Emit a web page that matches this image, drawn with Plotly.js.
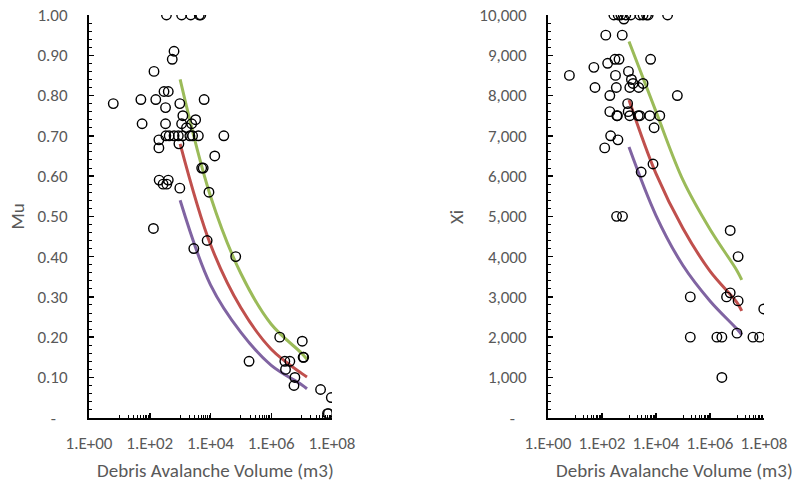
<!DOCTYPE html>
<html>
<head>
<meta charset="utf-8">
<script src="https://cdn.plot.ly/plotly-3.0.1.min.js"></script>
<style>html,body{margin:0;padding:0;background:#fff;}#chart{width:798px;height:484px;}</style>
</head>
<body>
<div id="chart"></div>
<script>
// ---- Left panel: Mu vs Debris Avalanche Volume ----
const muVolume = [355, 1120, 2240, 4270, 4790, 630, 550, 138, 6.3, 51, 158, 295, 407, 331, 977, 56, 331, 1230, 1120, 3240, 2400, 1620, 6170,
  339, 437, 631, 871, 1200, 2090, 2570, 3980, 27500, 200, 200, 912, 13800, 5130, 5750, 204, 407, 275, 363, 977, 8900, 132, 7760, 2820, 67600,
  1.9e6, 1.05e7, 1.86e5, 2.8e6, 4.1e6, 2.95e6, 1.12e7, 1.17e7, 6.0e6, 5.6e6, 4.2e7, 9.5e7, 7.1e7, 7.6e7];
const muValue = [1.00, 1.00, 1.00, 1.00, 1.00, 0.91, 0.89, 0.86, 0.78, 0.79, 0.79, 0.81, 0.81, 0.77, 0.78, 0.73, 0.73, 0.75, 0.73, 0.74, 0.73, 0.72, 0.79,
  0.70, 0.70, 0.70, 0.70, 0.70, 0.70, 0.70, 0.70, 0.70, 0.69, 0.67, 0.68, 0.65, 0.62, 0.62, 0.59, 0.59, 0.58, 0.58, 0.57, 0.56, 0.47, 0.44, 0.42, 0.40,
  0.20, 0.19, 0.14, 0.14, 0.14, 0.12, 0.15, 0.15, 0.10, 0.08, 0.07, 0.05, 0.01, 0.01];

// ---- Right panel: Xi vs Debris Avalanche Volume ----
const xiVolume = [275, 398, 501, 759, 1170, 2510, 3310, 4470, 5130, 26900, 646, 138, 562, 302, 427, 6310, 162, 50, 6.2, 316, 955, 1230, 1410, 3310,
  55, 339, 1070, 2290, 195, 61700, 891, 195, 933, 355, 372, 1070, 2190, 2510, 5890, 13800, 8510, 209, 389, 126, 7760, 2820, 347, 575,
  5.6e6, 1.1e7, 1.86e5, 1.86e5, 5.6e6, 4.1e6, 1.1e7, 9.8e7, 1.0e7, 1.8e6, 2.75e6, 3.9e7, 6.9e7, 2.75e6];
const xiValue = [10000, 10000, 10000, 10000, 10000, 10000, 10000, 10000, 10000, 10000, 9900, 9500, 9500, 8900, 8900, 8900, 8800, 8700, 8500, 8500, 8600, 8400, 8300, 8300,
  8200, 8200, 8200, 8200, 8000, 8000, 7800, 7600, 7600, 7500, 7500, 7500, 7500, 7500, 7500, 7500, 7200, 7000, 6900, 6700, 6300, 6100, 5000, 5000,
  4650, 4000, 3000, 2000, 3100, 3000, 2900, 2700, 2100, 2000, 2000, 2000, 2000, 1000];

// ---- Fitted curves ----
const curveVolume = [1000, 10000, 100000, 1e6, 1e7, 1.5e7];
const muGreen  = [0.84, 0.55, 0.358, 0.232, 0.160, 0.145];
const muRed    = [0.68, 0.43, 0.273, 0.170, 0.110, 0.101];
const muPurple = [0.54, 0.330, 0.212, 0.130, 0.082, 0.072];
const xiGreen  = [9340, 7600, 5900, 4680, 3650, 3420];
const xiRed    = [7890, 6060, 4700, 3640, 2860, 2650];
const xiPurple = [6720, 5020, 3780, 2900, 2200, 2060];

// ---- Tick labels ----
const xTickVals = [1, 100, 1e4, 1e6, 1e8];
const xTickText = ['1.E+00', '1.E+02', '1.E+04', '1.E+06', '1.E+08'];
const xMinorVals = [10,20,30,40,50,60,70,80,90, 1e3,2e3,3e3,4e3,5e3,6e3,7e3,8e3,9e3, 1e5,2e5,3e5,4e5,5e5,6e5,7e5,8e5,9e5, 1e7,2e7,3e7,4e7,5e7,6e7,7e7,8e7,9e7];
const muTickVals = [0, 0.1, 0.2, 0.3, 0.4, 0.5, 0.6, 0.7, 0.8, 0.9, 1.0];
const muTickText = ['-\u00a0\u00a0\u00a0', '0.10', '0.20', '0.30', '0.40', '0.50', '0.60', '0.70', '0.80', '0.90', '1.00'];
const xiTickVals = [0, 1000, 2000, 3000, 4000, 5000, 6000, 7000, 8000, 9000, 10000];
const xiTickText = ['-\u00a0\u00a0\u00a0', '1,000', '2,000', '3,000', '4,000', '5,000', '6,000', '7,000', '8,000', '9,000', '10,000'];

const FONT = 'Carlito, Calibri, Lato, "Open Sans", sans-serif';
const GREY = '#595959';
const GREEN = '#9BBB59', RED = '#C0504D', PURPLE = '#8064A2';

function line(x, y, color, xa, ya) {
  return {x: x, y: y, xaxis: xa, yaxis: ya, type: 'scatter', mode: 'lines',
    line: {color: color, width: 3, shape: 'spline', smoothing: 1}, hoverinfo: 'skip', showlegend: false};
}
function pts(x, y, xa, ya) {
  return {x: x, y: y, xaxis: xa, yaxis: ya, type: 'scatter', mode: 'markers',
    marker: {symbol: 'circle-open', size: 9.5, color: '#000', line: {width: 1.4, color: '#000'}}, showlegend: false};
}

const data = [
  line(curveVolume, muGreen, GREEN, 'x', 'y'),
  line(curveVolume, muRed, RED, 'x', 'y'),
  line(curveVolume, muPurple, PURPLE, 'x', 'y'),
  pts(muVolume, muValue, 'x', 'y'),
  line(curveVolume, xiGreen, GREEN, 'x2', 'y2'),
  line(curveVolume, xiRed, RED, 'x2', 'y2'),
  line(curveVolume, xiPurple, PURPLE, 'x2', 'y2'),
  pts(xiVolume, xiValue, 'x2', 'y2')
];

function xAxis(domain, anchor) {
  return {domain: domain, anchor: anchor, type: 'log', range: [0, 8], showgrid: false, zeroline: false,
    showline: true, linecolor: '#000', linewidth: 2,
    tickmode: 'array', tickvals: xTickVals, ticktext: xTickText,
    ticks: 'inside', ticklen: 5, tickwidth: 1.5, tickcolor: '#000',
    ticklabelstandoff: 9,
    tickfont: {family: FONT, size: 17, color: GREY},
    minor: {tickmode: 'array', tickvals: xMinorVals, ticks: 'inside', ticklen: 3, tickwidth: 1, tickcolor: '#000', showgrid: false}};
}
function yAxis(domain, anchor, range, vals, text, minorStep) {
  return {domain: domain, anchor: anchor, range: range, showgrid: false, zeroline: false,
    showline: true, linecolor: '#000', linewidth: 2,
    tickmode: 'array', tickvals: vals, ticktext: text,
    ticks: 'inside', ticklen: 5, tickwidth: 1.5, tickcolor: '#000',
    ticklabelstandoff: 16,
    tickfont: {family: FONT, size: 17, color: GREY},
    minor: {dtick: minorStep, ticks: 'inside', ticklen: 3, tickwidth: 1, tickcolor: '#000', showgrid: false}};
}

const yDom = [1 - 417.7/484, 1 - 15/484];
const layout = {
  width: 798, height: 484,
  margin: {l: 0, r: 0, t: 0, b: 0},
  paper_bgcolor: '#fff', plot_bgcolor: 'rgba(0,0,0,0)',
  showlegend: false,
  xaxis: xAxis([89/798, 332/798], 'y'),
  yaxis: yAxis(yDom, 'x', [0, 1], muTickVals, muTickText, 0.02),
  xaxis2: xAxis([548/798, 764/798], 'y2'),
  yaxis2: yAxis(yDom, 'x2', [0, 10000], xiTickVals, xiTickText, 200),
  annotations: [
    {text: 'Debris Avalanche Volume (m3)', xref: 'paper', yref: 'paper', x: 215.5/798, y: 1 - 470/484,
      xanchor: 'center', yanchor: 'middle', showarrow: false, font: {family: FONT, size: 19, color: GREY}},
    {text: 'Debris Avalanche Volume (m3)', xref: 'paper', yref: 'paper', x: 674.5/798, y: 1 - 470/484,
      xanchor: 'center', yanchor: 'middle', showarrow: false, font: {family: FONT, size: 19, color: GREY}},
    {text: 'Mu', xref: 'paper', yref: 'paper', x: 16.5/798, y: 1 - 217/484, textangle: -90,
      xanchor: 'center', yanchor: 'middle', showarrow: false, font: {family: FONT, size: 19, color: GREY}},
    {text: 'Xi', xref: 'paper', yref: 'paper', x: 456/798, y: 1 - 217/484, textangle: -90,
      xanchor: 'center', yanchor: 'middle', showarrow: false, font: {family: FONT, size: 19, color: GREY}}
  ]
};

Plotly.newPlot('chart', data, layout, {displayModeBar: false, staticPlot: true});
</script>
</body>
</html>
